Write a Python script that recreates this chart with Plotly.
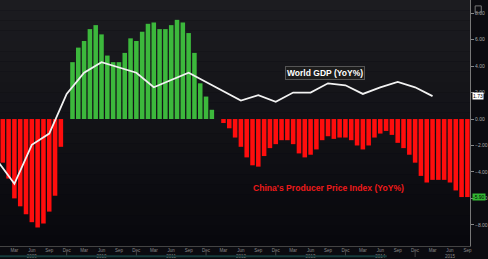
import plotly.graph_objects as go

# ---- data ----
ppi_start = (2009, 1)
ppi_values = [
    -3.3, -4.5, -6.0, -6.6, -7.2, -7.8, -8.2, -7.9, -7.0, -5.8, -2.1, None,
    4.3, 5.4, 5.9, 6.8, 7.1, 6.4, 4.8, 4.3, 4.3, 5.0, 6.1, 5.9,
    6.6, 7.2, 7.3, 6.8, 6.8, 7.1, 7.5, 7.3, 6.5, 5.0, 2.7, 1.7,
    0.7, 0.0, -0.3, -0.7, -1.4, -2.1, -2.9, -3.5, -3.6, -2.8, -2.2, -1.9,
    -1.6, -1.6, -1.9, -2.6, -2.9, -2.7, -2.3, -1.6, -1.3, -1.5, -1.4, -1.4,
    -1.6, -2.0, -2.3, -2.0, -1.4, -1.1, -0.9, -1.2, -1.8, -2.2, -2.7, -3.3,
    -4.3, -4.8, -4.6, -4.6, -4.6, -4.8, -5.4, -5.9, -5.9,
]
gdp_start = (2008, 12)
gdp_values = [
    -3.1, -4.9, -1.95, -1.1, 1.9, 3.5, 4.3, 3.9, 3.5, 2.4, 2.95, 3.5, 2.8,
    2.1, 1.4, 1.8, 1.3, 2.0, 2.0, 2.7, 2.55, 1.9, 2.4, 2.8, 2.4, 1.73,
]
month_names = ["Jan", "Feb", "Mar", "Apr", "May", "Jun",
               "Jul", "Aug", "Sep", "Oct", "Nov", "Dec"]
tick_start = (2009, 3)
tick_end = (2015, 9)
y_ticks = [8, 6, 4, 2, 0, -2, -4, -6, -8]


def idx(ym):
    return (ym[0] - ppi_start[0]) * 12 + (ym[1] - ppi_start[1])


def ym_add(ym, k):
    t = ym[0] * 12 + (ym[1] - 1) + k
    return (t // 12, t % 12 + 1)


ppi_x = [idx(ym_add(ppi_start, i)) for i in range(len(ppi_values))]
gdp_x = [idx(ym_add(gdp_start, 3 * i)) for i in range(len(gdp_values))]

tick_months = []
cur = tick_start
while idx(cur) <= idx(tick_end):
    tick_months.append(cur)
    cur = ym_add(cur, 3)
tickvals = [idx(p) for p in tick_months]
ticktext = [f"{month_names[m-1]}<br>{y}" if m == 6 else month_names[m - 1]
            for (y, m) in tick_months]

RED = "#ff0d0d"
GREEN = "#3cb83c"
bar_colors = [GREEN if (v is not None and v > 0) else RED for v in ppi_values]

fig = go.Figure()
fig.add_trace(go.Bar(x=ppi_x, y=ppi_values, marker=dict(color=bar_colors, line=dict(width=0)),
                     showlegend=False, hoverinfo="skip"))
fig.add_trace(go.Scatter(x=gdp_x, y=gdp_values, mode="lines",
                         line=dict(color="#f2f2f2", width=1.8), showlegend=False,
                         hoverinfo="skip"))

# background gradient bands
shapes = []
n = 24
top = (28, 28, 32)
bot = (8, 8, 13)
for i in range(n):
    t = i / (n - 1)
    c = tuple(round(top[k] + (bot[k] - top[k]) * t) for k in range(3))
    shapes.append(dict(type="rect", xref="paper", yref="paper", layer="below",
                       x0=0, x1=1, y0=1 - (i + 1) / n, y1=1 - i / n,
                       fillcolor=f"rgb{c}", line=dict(width=0)))
# year separators below axis
for p in tick_months:
    if p[1] == 12:
        shapes.append(dict(type="line", xref="x", yref="paper", x0=idx(p), x1=idx(p),
                           y0=-0.015, y1=-0.045, line=dict(color="#444", width=1)))
# scroll bar strip
shapes.append(dict(type="rect", xref="paper", yref="paper", x0=0, x1=0.823,
                   y0=-0.046, y1=-0.038, fillcolor="#163c3c", line=dict(width=0)))
# small icon top-right
shapes.append(dict(type="rect", xref="paper", yref="paper", x0=1.011, x1=1.024,
                   y0=0.948, y1=0.976, fillcolor="rgba(0,0,0,0)",
                   line=dict(color="#777", width=1)))

annotations = [
    dict(text="<b>World GDP (YoY%)</b>", xref="paper", yref="y", x=0.692, y=3.45,
         xanchor="center", yanchor="middle",
         showarrow=False, font=dict(family="Liberation Sans, Arial", size=8.5, color="#ffffff"),
         bgcolor="#1c1c1c", bordercolor="#555", borderwidth=1, borderpad=1),
    dict(text="<b>China's Producer Price Index (YoY%)</b>", xref="paper", yref="y",
         x=0.698, y=-5.2, xanchor="center", yanchor="middle", showarrow=False,
         font=dict(family="Liberation Sans, Arial", size=8.6, color="#ee1a1a")),
    dict(text=f"{gdp_values[-1]:.2f}", xref="paper", yref="y", x=1.0, y=gdp_values[-1],
         xanchor="left", xshift=2, showarrow=False, bgcolor="#ffffff",
         font=dict(family="Liberation Sans, Arial", size=5, color="#000"), borderpad=0),
    dict(text=f"{ppi_values[-1]:.2f}", xref="paper", yref="y", x=1.0, y=ppi_values[-1],
         xanchor="left", xshift=2, showarrow=False, bgcolor="#33b833",
         font=dict(family="Liberation Sans, Arial", size=5, color="#000"), borderpad=0),
]

fig.update_layout(
    width=488, height=259,
    margin=dict(l=0, r=17, t=0, b=11),
    paper_bgcolor="#0b0b10", plot_bgcolor="rgba(0,0,0,0)",
    bargap=0.22,
    shapes=shapes, annotations=annotations,
    xaxis=dict(range=[-0.48, 80.45], tickvals=tickvals, ticktext=ticktext,
               tickfont=dict(family="Liberation Sans, Arial", size=4.5, color="#8a8a8a"),
               showgrid=False, zeroline=False, showline=True, linecolor="#444",
               ticks="", ticklabelstandoff=0),
    yaxis=dict(range=[-9.6, 9.0], side="right", tickvals=y_ticks, tickformat=".2f",
               tickfont=dict(family="Liberation Sans, Arial", size=5, color="#aaaaaa"),
               showgrid=False, zeroline=False, showline=True, linecolor="#777",
               ticks="outside", ticklen=3, tickcolor="#888"),
)

fig.write_html("out.html")
